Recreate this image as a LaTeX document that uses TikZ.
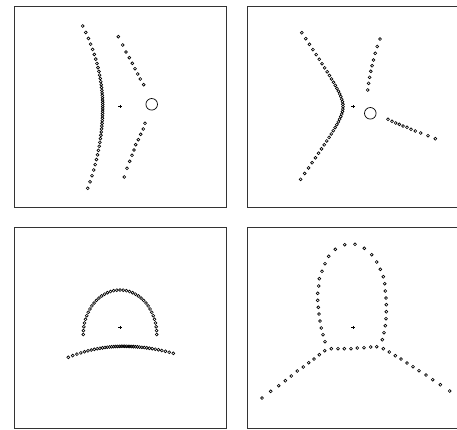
\documentclass[tikz,border=0pt]{standalone}
\usetikzlibrary{positioning}

\begin{document}
\begin{tikzpicture}[
    x=1pt, y=-1pt,
    panel/.style={
      draw=black!80,
      line width=0.9pt,
      minimum width=212pt,
      minimum height=201pt,
      inner sep=0pt,
      outer sep=0pt
    },
    img/.style={draw, line width=0.65pt},
    source/.style={draw, line width=0.7pt},
    cross/.style={line width=0.55pt}
  ]
  \useasboundingbox (0,0) rectangle (457,429);

  % the four frames
  \node[panel] (tl) at (120,106.5) {};
  \node[panel, right=21pt of tl] (tr) {};
  \node[panel, below=20pt of tl] (bl) {};
  \node[panel, below=20pt of tr] (br) {};

  % lens centres
  \foreach \p in {tl,tr,bl,br}
    \draw[cross] (\p.center) +(-1.7,0) -- +(1.7,0) +(0,-1.7) -- +(0,1.7);

  % top left
  \foreach \i in {-22,...,22}{
    \pgfmathsetmacro\s{\i/22}
    \pgfmathsetmacro\dy{(\i<0 ? 80.7 : 81.6)*(\s+0.67*\s*\s*\s)/1.67}
    \pgfmathsetmacro\dx{(\i<0 ? 0.00307 : 0.00225)*\dy*\dy}
    \draw[img] (102.7-\dx,106.7+\dy) circle[radius=1.45];
  }
  \foreach \x/\y in {118.3/36.7,122.7/45,126/52,129.3/57.7,132.3/63.3,
      135/68.7,137.7/74,140.3/79,143.7/84.7,
      145/123.3,143.3/129,140.7/134.3,138.3/139.7,135.7/144.7,
      134/150,132/155.3,129.7/161.3,127/168.3,124.3/177}
    \draw[img] (\x,\y) circle[radius=1.45];
  \draw[source] (151.7,104.3) circle[radius=5.8];

  % top right
  \foreach \i in {-20,...,20}{
    \pgfmathsetmacro\s{\i/20}
    \pgfmathsetmacro\dy{(\i<0 ? 74 : 72.6)*(\s+0.5*\s*\s*\s)/1.5}
    \pgfmathsetmacro\dx{(\i<0 ? 9.4 : 9.9)*(sqrt(1+(\dy/14)*(\dy/14))-1)}
    \draw[img] (343-\dx,106.7+\dy) circle[radius=1.45];
  }
  \foreach \x/\y in {380/39,377.2/46.5,375.2/53.3,373.5/60,372.1/65.7,
      370.8/71.3,369.6/77.3,368.6/83.3,367.7/90,
      388/119.3,392/121.3,395.7/123,399.3/124.3,403/126,407/127.3,
      411/129.3,415.3/131,420.7/133,428/135.7,435.3/138.7}
    \draw[img] (\x,\y) circle[radius=1.45];
  \draw[source] (370.3,113.3) circle[radius=5.8];

  % bottom left
  \foreach \t in {0,5,...,180}
    \draw[img] ({120+36.7*cos(\t)},{334.5-44.5*sin(\t)}) circle[radius=1.45];
  \foreach \i in {-20,...,20}{
    \pgfmathsetmacro\s{\i/20}
    \pgfmathsetmacro\dx{(\i<0 ? 54.7 : 50.3)*(\s+0.5*\s*\s*\s)/1.5}
    \pgfmathsetmacro\dy{(\i<0 ? 0.00368 : 0.00277)*\dx*\dx}
    \draw[img] (123+\dx,346.3+\dy) circle[radius=1.45];
  }

  % bottom right
  \foreach \x/\y in {344.7/244.7,355/244.3,
      335.3/249.3,328.7/256.3,325/263.7,322/271.3,319.3/278.7,318.7/286,
      317.7/293.3,317.7/300.3,318.3/307.3,319/314,320/321,321.3/328,
      323/334.7,325/341.7,
      324.7/350.7,331.3/348.7,338/348.7,344.3/348.7,351/348.7,357.3/348,
      364/347.7,370.7/347,376.7/346.7,
      382.3/339.7,384/332.7,385.3/325.7,386/318.7,386.3/311.7,386.3/304.7,
      386/298,385.3/291,384.7/283.7,383.3/276.7,380.3/269.3,376.7/262,
      371.7/254.7,364.3/248.3,
      319.3/354.7,314/359,308.7/362.7,303.3/367,297.3/371,291.3/376,
      285.3/380.7,278.7/385.7,270.7/391.3,262/398,
      383.3/348.7,389.3/352,395.3/355.7,401/359,407/363,413/366.7,
      419/370.7,426/375,432.7/379.7,440.3/384.7,449.7/391}
    \draw[img] (\x,\y) circle[radius=1.45];

\end{tikzpicture}
\end{document}
